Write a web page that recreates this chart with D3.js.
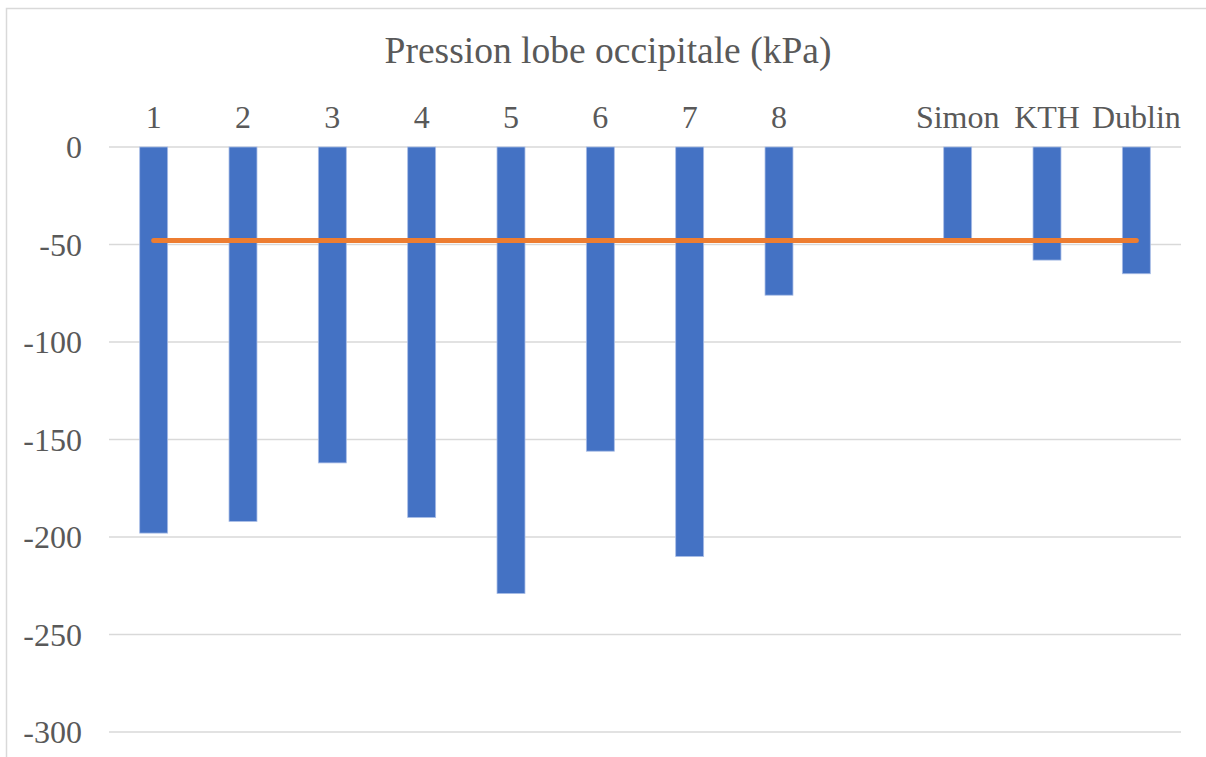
<!DOCTYPE html>
<html>
<head>
<meta charset="utf-8">
<script src="https://cdn.jsdelivr.net/npm/d3@7"></script>
<style>
  html, body { margin: 0; padding: 0; background: #ffffff; }
  svg { display: block; }
  svg text { font-family: 'Liberation Serif', 'Times New Roman', Tinos, 'DejaVu Serif', serif; fill: #595959; }
</style>
</head>
<body>
<svg id="chart" width="1206" height="757"></svg>
<script>
const title = "Pression lobe occipitale (kPa)";
const categories = ["1", "2", "3", "4", "5", "6", "7", "8", "", "Simon", "KTH", "Dublin"];
const pressure = [-198, -192, -162, -190, -229, -156, -210, -76, null, -47, -58, -65];
const reference = [-48, -48, -48, -48, -48, -48, -48, -48, -48, -48, -48, -48];
const yTicks = [0, -50, -100, -150, -200, -250, -300];

const FONT = "'Liberation Serif', 'Times New Roman', Tinos, 'DejaVu Serif', serif";
const LABEL_SIZE = 32;
const svg = d3.select("#chart");
const plot = { left: 109, right: 1181, top: 147, bottom: 732 };

// chart border (extends beyond the viewport on the right and bottom)
svg.append("rect")
  .attr("x", 6.5).attr("y", 8.5)
  .attr("width", 1230).attr("height", 780)
  .attr("fill", "#ffffff")
  .attr("stroke", "#d9d9d9").attr("stroke-width", 1.5);

const x = d3.scaleBand()
  .domain(categories.map((c, i) => i))
  .range([plot.left, plot.right])
  .paddingInner(0).paddingOuter(0);

const y = d3.scaleLinear()
  .domain([0, -300])
  .range([plot.top, plot.bottom]);

// gridlines
svg.append("g")
  .selectAll("line")
  .data(yTicks)
  .join("line")
  .attr("x1", plot.left).attr("x2", plot.right)
  .attr("y1", d => y(d)).attr("y2", d => y(d))
  .attr("stroke", "#d9d9d9").attr("stroke-width", 1.5);

// y axis labels
const yAxis = d3.axisLeft(y).tickValues(yTicks).tickSize(0).tickPadding(0).tickFormat(d => String(d));
const yg = svg.append("g").attr("transform", `translate(${plot.left - 27},0)`).call(yAxis);
yg.attr("font-family", FONT).attr("font-size", LABEL_SIZE);
yg.select(".domain").remove();
yg.selectAll("text")
  .style("font-family", FONT)
  .attr("font-size", LABEL_SIZE)
  .attr("fill", "#595959")
  .attr("dy", "0.34em");

// category labels at top
const xAxis = d3.axisTop(x).tickSize(0).tickPadding(0).tickFormat(i => categories[i]);
const xg = svg.append("g").attr("transform", `translate(0,128)`).call(xAxis);
xg.attr("font-family", FONT).attr("font-size", LABEL_SIZE);
xg.select(".domain").remove();
xg.selectAll("text")
  .style("font-family", FONT)
  .attr("font-size", LABEL_SIZE)
  .attr("fill", "#595959")
  .attr("dy", 0);

// bars
const barFrac = 0.313;
const bw = x.bandwidth() * barFrac;
svg.append("g")
  .selectAll("rect")
  .data(pressure.map((v, i) => ({ v, i })).filter(d => d.v !== null))
  .join("rect")
  .attr("x", d => x(d.i) + (x.bandwidth() - bw) / 2)
  .attr("y", d => y(0))
  .attr("width", bw)
  .attr("height", d => y(d.v) - y(0))
  .attr("fill", "#4472c4")
  .attr("stroke", "#a9bde6")
  .attr("stroke-width", 0.8);

// reference line
const line = d3.line()
  .x((d, i) => x(i) + x.bandwidth() / 2)
  .y(d => y(d));
svg.append("path")
  .datum(reference)
  .attr("d", line)
  .attr("fill", "none")
  .attr("stroke", "#ed7d31")
  .attr("stroke-width", 5)
  .attr("stroke-linecap", "round")
  .attr("stroke-linejoin", "round");

// title
svg.append("text")
  .attr("x", 608)
  .attr("y", 63)
  .attr("text-anchor", "middle")
  .style("font-family", FONT)
  .attr("font-size", 37.5)
  .text(title);
</script>
</body>
</html>
